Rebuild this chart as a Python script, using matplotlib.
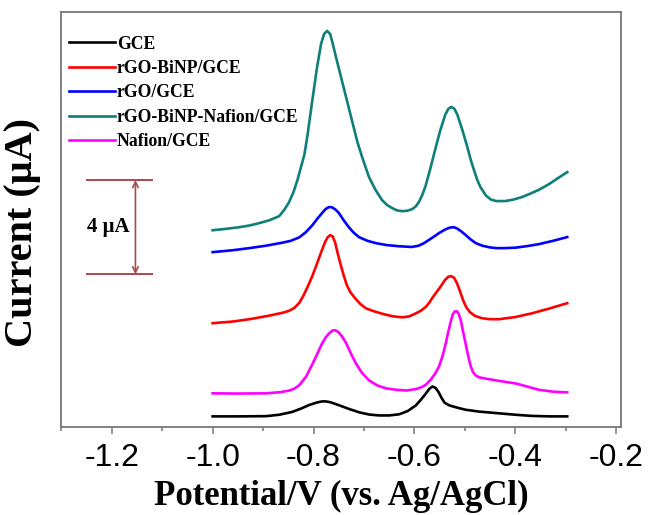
import matplotlib
matplotlib.use("Agg")
import matplotlib.pyplot as plt
from matplotlib.ticker import MultipleLocator

plt.rcParams["axes.unicode_minus"] = False

# differential pulse voltammograms, offset vertically (current in uA)
gce_v = [-1.000, -0.950, -0.894, -0.868, -0.842, -0.825, -0.809, -0.795, -0.785, -0.777,
         -0.768, -0.758, -0.749, -0.730, -0.709, -0.690, -0.670, -0.650, -0.630, -0.613,
         -0.597, -0.587, -0.577, -0.570, -0.564, -0.558, -0.552, -0.546, -0.540, -0.531,
         -0.515, -0.498, -0.470, -0.432, -0.400, -0.367, -0.330, -0.297]
gce_i = [0.47, 0.47, 0.48, 0.54, 0.66, 0.80, 0.95, 1.05, 1.10, 1.11,
         1.08, 1.01, 0.94, 0.79, 0.64, 0.55, 0.51, 0.51, 0.56, 0.70,
         0.94, 1.18, 1.45, 1.65, 1.74, 1.68, 1.50, 1.25, 1.05, 0.94,
         0.84, 0.75, 0.67, 0.60, 0.54, 0.49, 0.47, 0.47]

rgo_bi_v = [-1.000, -0.960, -0.927, -0.888, -0.860, -0.848, -0.838, -0.828, -0.820, -0.812,
            -0.802, -0.795, -0.789, -0.783, -0.777, -0.772, -0.767, -0.762, -0.757, -0.752,
            -0.746, -0.740, -0.734, -0.727, -0.719, -0.708, -0.696, -0.678, -0.660, -0.642,
            -0.624, -0.610, -0.597, -0.587, -0.577, -0.570, -0.563, -0.555, -0.547, -0.540,
            -0.533, -0.527, -0.521, -0.515, -0.509, -0.503, -0.497, -0.490, -0.480, -0.466,
            -0.450, -0.432, -0.400, -0.367, -0.333, -0.297]
rgo_bi_i = [4.43, 4.50, 4.60, 4.75, 4.88, 4.96, 5.08, 5.30, 5.60, 5.96,
            6.45, 6.85, 7.20, 7.55, 7.88, 8.08, 8.17, 8.12, 7.85, 7.40,
            6.90, 6.45, 6.05, 5.75, 5.53, 5.26, 5.06, 4.92, 4.81, 4.72,
            4.68, 4.72, 4.85, 4.96, 5.13, 5.32, 5.55, 5.78, 6.02, 6.25,
            6.40, 6.43, 6.35, 6.10, 5.75, 5.38, 5.10, 4.90, 4.74, 4.64,
            4.60, 4.60, 4.69, 4.85, 5.05, 5.28]

rgo_v = [-1.000, -0.960, -0.927, -0.895, -0.862, -0.845, -0.828, -0.815, -0.802, -0.792,
         -0.783, -0.776, -0.770, -0.764, -0.757, -0.750, -0.740, -0.730, -0.720, -0.710,
         -0.693, -0.676, -0.655, -0.631, -0.605, -0.592, -0.581, -0.566, -0.551, -0.540,
         -0.530, -0.522, -0.515, -0.507, -0.498, -0.488, -0.478, -0.465, -0.450, -0.438,
         -0.420, -0.399, -0.375, -0.353, -0.325, -0.297]
rgo_i = [7.45, 7.53, 7.62, 7.72, 7.85, 7.93, 8.08, 8.30, 8.60, 8.88,
         9.11, 9.28, 9.36, 9.36, 9.27, 9.12, 8.80, 8.51, 8.27, 8.09,
         7.93, 7.83, 7.75, 7.70, 7.67, 7.72, 7.83, 8.04, 8.26, 8.40,
         8.49, 8.51, 8.45, 8.33, 8.17, 7.98, 7.83, 7.72, 7.65, 7.62,
         7.62, 7.64, 7.71, 7.79, 7.93, 8.09]

rgo_bi_naf_v = [-1.000, -0.973, -0.947, -0.927, -0.908, -0.888, -0.868, -0.858, -0.849, -0.840,
                -0.832, -0.825, -0.818, -0.812, -0.803, -0.793, -0.785, -0.779, -0.773, -0.767,
                -0.763, -0.753, -0.743, -0.733, -0.723, -0.713, -0.703, -0.690, -0.677, -0.664,
                -0.654, -0.644, -0.634, -0.624, -0.614, -0.604, -0.597, -0.591, -0.584, -0.578,
                -0.569, -0.559, -0.549, -0.539, -0.533, -0.527, -0.521, -0.515, -0.505, -0.495,
                -0.488, -0.481, -0.475, -0.469, -0.458, -0.448, -0.438, -0.420, -0.404, -0.388,
                -0.373, -0.353, -0.333, -0.315, -0.297]
rgo_bi_naf_i = [8.38, 8.44, 8.51, 8.58, 8.68, 8.80, 8.98, 9.25, 9.55, 9.98,
                10.50, 11.05, 11.60, 12.40, 13.80, 15.30, 16.30, 16.72, 16.85, 16.72,
                16.40, 15.53, 14.68, 13.83, 12.98, 12.13, 11.45, 10.64, 10.09, 9.66,
                9.45, 9.32, 9.22, 9.19, 9.21, 9.28, 9.40, 9.58, 9.90, 10.25,
                10.95, 11.79, 12.60, 13.28, 13.53, 13.62, 13.55, 13.30, 12.65, 11.91,
                11.35, 10.88, 10.50, 10.21, 9.85, 9.68, 9.62, 9.62, 9.68, 9.78,
                9.91, 10.10, 10.34, 10.60, 10.85]

naf_v = [-1.000, -0.950, -0.894, -0.865, -0.848, -0.838, -0.828, -0.815, -0.802, -0.792,
         -0.783, -0.775, -0.768, -0.762, -0.757, -0.751, -0.745, -0.740, -0.735, -0.726,
         -0.716, -0.704, -0.690, -0.673, -0.656, -0.636, -0.616, -0.597, -0.585, -0.577,
         -0.568, -0.559, -0.551, -0.544, -0.538, -0.533, -0.528, -0.524, -0.520, -0.516,
         -0.512, -0.508, -0.504, -0.499, -0.494, -0.489, -0.484, -0.478, -0.472, -0.455,
         -0.438, -0.418, -0.399, -0.375, -0.353, -0.325, -0.297]
naf_i = [1.45, 1.44, 1.45, 1.50, 1.57, 1.65, 1.80, 2.15, 2.70, 3.15,
         3.57, 3.85, 4.02, 4.12, 4.13, 4.06, 3.91, 3.75, 3.57, 3.15,
         2.72, 2.32, 2.00, 1.78, 1.66, 1.60, 1.57, 1.63, 1.72, 1.82,
         2.02, 2.28, 2.60, 3.05, 3.55, 4.05, 4.50, 4.80, 4.93, 4.94,
         4.82, 4.55, 4.12, 3.62, 3.10, 2.65, 2.35, 2.20, 2.13, 2.06,
         2.00, 1.93, 1.87, 1.73, 1.60, 1.52, 1.49]

series = [
    ("GCE", gce_v, gce_i, "black"),
    ("rGO-BiNP/GCE", rgo_bi_v, rgo_bi_i, "#ff0000"),
    ("rGO/GCE", rgo_v, rgo_i, "#0000ff"),
    ("rGO-BiNP-Nafion/GCE", rgo_bi_naf_v, rgo_bi_naf_i, "#0e7f7a"),
    ("Nafion/GCE", naf_v, naf_i, "#ff00ff"),
]

# 4 uA scale bar
bar_size = 4.0
bar_bottom = 6.51
bar_x = -1.153

fig = plt.figure(figsize=(6.52, 5.15), dpi=100)
ax = fig.add_axes([0.094, 0.170, 0.858, 0.807])

for label, v, i, c in series:
    ax.plot(v, i, color=c, lw=1.9, label=label, solid_joinstyle="round")

ax.set_xlim(-1.3, -0.191)
ax.set_ylim(0, 17.66)

bar_col = "#a8484c"
ax.plot([-1.250, -1.121], [bar_bottom + bar_size] * 2, color=bar_col, lw=1.4)
ax.plot([-1.250, -1.121], [bar_bottom] * 2, color=bar_col, lw=1.4)
ax.annotate("", xy=(bar_x, bar_bottom + bar_size), xytext=(bar_x, bar_bottom),
            arrowprops=dict(arrowstyle="<->", color=bar_col, lw=1.2,
                            shrinkA=0, shrinkB=0, mutation_scale=10))
ax.text(-1.206, bar_bottom + bar_size / 2, "4 \u03bcA", ha="center", va="center",
        fontsize=15, fontweight="bold", family="Liberation Serif")

leg = ax.legend(loc="upper left", bbox_to_anchor=(0.014, 0.943), frameon=False,
                borderaxespad=0, borderpad=0, handlelength=2.6, handletextpad=0.1,
                labelspacing=0.42,
                prop={"family": "Liberation Serif", "weight": "bold", "size": 12.7})

ax.xaxis.set_major_locator(MultipleLocator(0.2))
ax.xaxis.set_minor_locator(MultipleLocator(0.1))
ax.tick_params(axis="x", which="major", direction="out", length=5, width=1.1,
               color="#777777", labelsize=23, pad=6)
ax.tick_params(axis="x", which="minor", direction="out", length=3, width=1.1,
               color="#777777")
ax.tick_params(axis="y", left=False, labelleft=False)
for lab in ax.get_xticklabels():
    lab.set_family("Liberation Sans")
for s in ax.spines.values():
    s.set_color("#777777")
    s.set_linewidth(1.3)

ax.set_xlabel("Potential/V (vs. Ag/AgCl)", fontsize=25, fontweight="bold",
              family="Liberation Serif", labelpad=5)
ax.set_ylabel("Current (\u03bcA)", fontsize=29, fontweight="bold",
              family="Liberation Serif")
ax.yaxis.set_label_coords(-0.036, 0.47)

fig.savefig("out.png", dpi=100)
